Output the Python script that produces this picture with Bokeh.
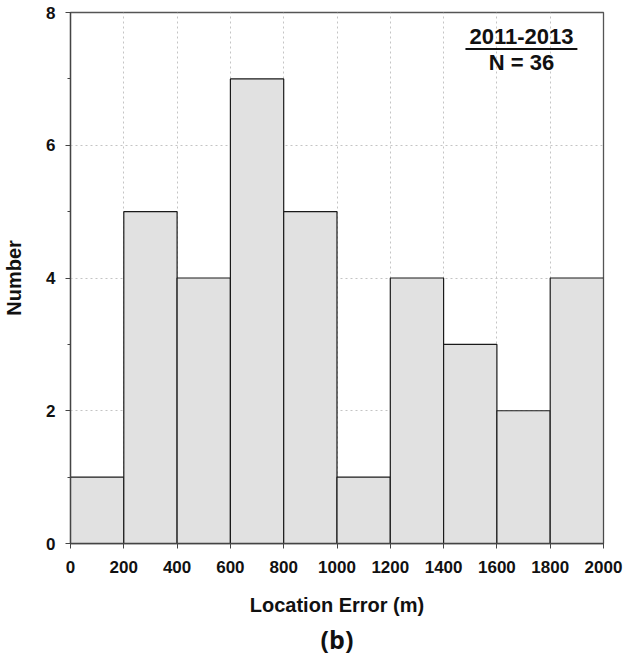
from bokeh.plotting import figure
from bokeh.models import Range1d, SingleIntervalTicker, Label, Title
from bokeh.embed import file_html
from bokeh.resources import INLINE

bin_left = [0, 200, 400, 600, 800, 1000, 1200, 1400, 1600, 1800]
bin_right = [200, 400, 600, 800, 1000, 1200, 1400, 1600, 1800, 2000]
counts = [1, 5, 4, 7, 5, 1, 4, 3, 2, 4]
period_label = "2011-2013"
n_label = "N = 36"
panel_label = "(b)"

FONT = "Liberation Sans"

p = figure(width=634, height=657, output_backend="svg", toolbar_location=None,
           x_range=Range1d(0, 2000), y_range=Range1d(0, 8),
           min_border_left=70, min_border_right=31, min_border_top=12, min_border_bottom=114)
p.background_fill_color = "white"
p.border_fill_color = "white"
p.outline_line_color = "#555555"
p.outline_line_width = 1.3

p.quad(left=bin_left, right=bin_right, bottom=0, top=counts,
       fill_color="#e1e1e1", line_color="#1a1a1a", line_width=1.2)

p.xaxis.ticker = SingleIntervalTicker(interval=200, num_minor_ticks=0)
p.yaxis.ticker = SingleIntervalTicker(interval=2, num_minor_ticks=2)

for ax in (p.xaxis[0], p.yaxis[0]):
    ax.axis_line_color = "#444444"
    ax.axis_line_width = 1.3
    ax.major_tick_line_color = "#444444"
    ax.minor_tick_line_color = "#444444"
    ax.major_tick_out = 5
    ax.major_tick_in = 0
    ax.minor_tick_out = 3
    ax.minor_tick_in = 0
    ax.major_label_text_font = FONT
    ax.major_label_text_font_style = "bold"
    ax.major_label_text_font_size = "17px"
    ax.major_label_text_color = "#111111"
    ax.axis_label_text_font = FONT
    ax.axis_label_text_font_style = "bold"
    ax.axis_label_text_font_size = "20px"
    ax.axis_label_text_color = "#111111"

p.xaxis.axis_label = "Location Error (m)"
p.yaxis.axis_label = "Number"
p.xaxis.major_label_standoff = 12
p.yaxis.major_label_standoff = 10
p.xaxis.axis_label_standoff = 18
p.yaxis.axis_label_standoff = 18

p.xgrid.grid_line_color = "#c4c4c4"
p.ygrid.grid_line_color = "#c4c4c4"
p.xgrid.grid_line_dash = "2 3"
p.ygrid.grid_line_dash = "2 3"
p.xgrid.grid_line_width = 1
p.ygrid.grid_line_width = 1

p.add_layout(Label(x=1692, y=7.64, text=period_label, text_align="center",
                   text_baseline="middle", text_font=FONT, text_font_style="bold",
                   text_font_size="22px", text_color="#111111"))
p.line(x=[1482, 1902], y=[7.45, 7.45], line_color="#111111", line_width=1.8)
p.add_layout(Label(x=1692, y=7.24, text=n_label, text_align="center",
                   text_baseline="middle", text_font=FONT, text_font_style="bold",
                   text_font_size="22px", text_color="#111111"))

p.add_layout(Title(text=panel_label, align="center", text_font="Open Sans",
                   text_font_style="bold", text_font_size="25px",
                   text_color="#111111", offset=0, standoff=3), "below")

open("out.html", "w").write(file_html(p, INLINE))
